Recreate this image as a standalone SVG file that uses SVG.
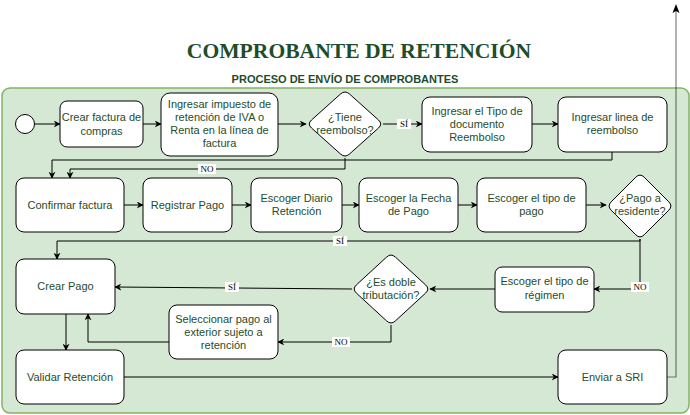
<svg xmlns="http://www.w3.org/2000/svg" width="690" height="415" viewBox="0 0 690 415">
<defs>
<marker id="ah" viewBox="0 0 10 10" refX="9" refY="5" markerWidth="7" markerHeight="7" orient="auto" markerUnits="userSpaceOnUse">
<path d="M0,0 L10,5 L0,10 L3,5 Z" fill="#000"/>
</marker>
<style>
.box{fill:#fff;stroke:#000;stroke-width:1}
.t{font-family:"Liberation Sans",Arial,sans-serif;font-size:11px;fill:#1e4d2b;text-anchor:middle}
.e{fill:none;stroke:#000;stroke-width:1;marker-end:url(#ah)}
.lb{font-family:"Liberation Serif","Times New Roman",serif;font-size:9px;fill:#000;text-anchor:middle}
.lbg{fill:#fff}
</style>
</defs>
<rect width="690" height="415" fill="#fff"/>
<text x="359" y="58" font-family="Liberation Serif,'Times New Roman',serif" font-weight="bold" font-size="21.6" fill="#1e4d2b" text-anchor="middle">COMPROBANTE DE RETENCIÓN</text>
<text x="345" y="83" font-family="Liberation Sans,Arial,sans-serif" font-weight="bold" font-size="11" fill="#1e4d2b" text-anchor="middle">PROCESO DE ENVÍO DE COMPROBANTES</text>
<rect id="container" x="2" y="88" width="687" height="325" rx="8" fill="#d5e8d4" stroke="#82b366" stroke-width="1.5"/>

<g id="connectors">
<path class="e" d="M34,124 L60,124"/>
<path class="e" d="M143,124 L161,124"/>
<path class="e" d="M278,124 L306,124"/>
<path class="e" d="M383,124 L422,124"/>
<path class="e" d="M532,124 L558,124"/>
<path class="e" d="M612,152 L612,160 L52,160 L52,178"/>
<path class="e" d="M345,158 L345,169 L70,169 L70,178"/>
<path class="e" d="M124,205 L143,205"/>
<path class="e" d="M232,205 L251,205"/>
<path class="e" d="M342,205 L359,205"/>
<path class="e" d="M458,205 L477,205"/>
<path class="e" d="M586,205 L606,205"/>
<path class="e" d="M640,239 L640,241 L57,241 L57,259"/>
<path class="e" d="M640,239 L640,289 L594,289"/>
<path class="e" d="M495,289 L430,289"/>
<path class="e" d="M352,289 L115,287"/>
<path class="e" d="M391,325 L391,342 L278,342"/>
<path class="e" d="M169,342 L88,342 L88,314"/>
<path class="e" d="M66,314 L66,350"/>
<path class="e" d="M124,377 L558,377"/>
<path d="M667,377 L676,377 L676,10" fill="none" stroke="#000" stroke-opacity="0.5" stroke-width="1.2"/>
<path d="M672.5,13 L676,4 L679.5,13 L676,11 Z" fill="#000"/>
<rect class="lbg" x="397" y="119" width="14" height="10"/>
<text class="lb" x="404" y="127">SÍ</text>
<rect class="lbg" x="198" y="164" width="18" height="10"/>
<text class="lb" x="207" y="172">NO</text>
<rect class="lbg" x="333" y="236" width="14" height="10"/>
<text class="lb" x="340" y="244">SÍ</text>
<rect class="lbg" x="631" y="282" width="18" height="10"/>
<text class="lb" x="640" y="290">NO</text>
<rect class="lbg" x="225" y="282" width="14" height="10"/>
<text class="lb" x="232" y="290">SÍ</text>
<rect class="lbg" x="332" y="337" width="18" height="10"/>
<text class="lb" x="341" y="345">NO</text>
</g>

<g id="start"><circle cx="25" cy="124" r="9.5" fill="#fff" stroke="#000"/></g>
<g id="n1"><rect class="box" x="60" y="101" width="83" height="46" rx="7"/><text class="t" x="101.5" y="121">Crear factura de</text><text class="t" x="101.5" y="135">compras</text></g>
<g id="n2"><rect class="box" x="161" y="93" width="117" height="63" rx="9"/><text class="t" x="219.5" y="108">Ingresar impuesto de</text><text class="t" x="219.5" y="121">retención de IVA o</text><text class="t" x="219.5" y="134">Renta en la línea de</text><text class="t" x="219.5" y="147">factura</text></g>
<g id="d1"><path class="box" d="M340.5,94 Q345,90 349.5,94 L378.5,120 Q383,124 378.5,128 L349.5,154 Q345,158 340.5,154 L311.5,128 Q307,124 311.5,120 Z"/><text class="t" x="345" y="121">¿Tiene</text><text class="t" x="345" y="134">reembolso?</text></g>
<g id="n3"><rect class="box" x="422" y="97" width="110" height="55" rx="8"/><text class="t" x="477" y="115">Ingresar el Tipo de</text><text class="t" x="477" y="128">documento</text><text class="t" x="477" y="141">Reembolso</text></g>
<g id="n4"><rect class="box" x="558" y="97" width="109" height="55" rx="8"/><text class="t" x="612.5" y="121">Ingresar linea de</text><text class="t" x="612.5" y="134">reembolso</text></g>

<g id="n5"><rect class="box" x="16" y="178" width="108" height="54" rx="8"/><text class="t" x="70" y="209">Confirmar factura</text></g>
<g id="n6"><rect class="box" x="143" y="178" width="89" height="54" rx="8"/><text class="t" x="187.5" y="209">Registrar Pago</text></g>
<g id="n7"><rect class="box" x="251" y="178" width="91" height="54" rx="8"/><text class="t" x="296.5" y="202">Escoger Diario</text><text class="t" x="296.5" y="215">Retención</text></g>
<g id="n8"><rect class="box" x="359" y="178" width="99" height="54" rx="8"/><text class="t" x="408.5" y="202">Escoger la Fecha</text><text class="t" x="408.5" y="215">de Pago</text></g>
<g id="n9"><rect class="box" x="477" y="178" width="109" height="54" rx="8"/><text class="t" x="531.5" y="202">Escoger el tipo de</text><text class="t" x="531.5" y="215">pago</text></g>
<g id="d2"><path class="box" d="M635.8,177.2 Q640,173 644.2,177.2 L668.8,201.8 Q673,206 668.8,210.2 L644.2,234.8 Q640,239 635.8,234.8 L611.2,210.2 Q607,206 611.2,201.8 Z"/><text class="t" x="640" y="202">¿Pago a</text><text class="t" x="640" y="215">residente?</text></g>

<g id="n10"><rect class="box" x="16" y="259" width="99" height="55" rx="8"/><text class="t" x="65.5" y="290">Crear Pago</text></g>
<g id="d3"><path class="box" d="M386.6,257.1 Q391,253 395.4,257.1 L425.6,284.9 Q430,289 425.6,293.1 L395.4,320.9 Q391,325 386.6,320.9 L356.4,293.1 Q352,289 356.4,284.9 Z"/><text class="t" x="391" y="286">¿Es doble</text><text class="t" x="391" y="299">tributación?</text></g>
<g id="n11"><rect class="box" x="495" y="267" width="99" height="45" rx="7"/><text class="t" x="544.5" y="285">Escoger el tipo de</text><text class="t" x="544.5" y="299">régimen</text></g>
<g id="n12"><rect class="box" x="169" y="305" width="109" height="54" rx="8"/><text class="t" x="223.5" y="323">Seleccionar pago al</text><text class="t" x="223.5" y="336">exterior sujeto a</text><text class="t" x="223.5" y="349">retención</text></g>
<g id="n13"><rect class="box" x="16" y="350" width="108" height="54" rx="8"/><text class="t" x="70" y="381">Validar Retención</text></g>
<g id="n14"><rect class="box" x="558" y="350" width="109" height="54" rx="8"/><text class="t" x="612.5" y="381">Enviar a SRI</text></g>
</svg>
